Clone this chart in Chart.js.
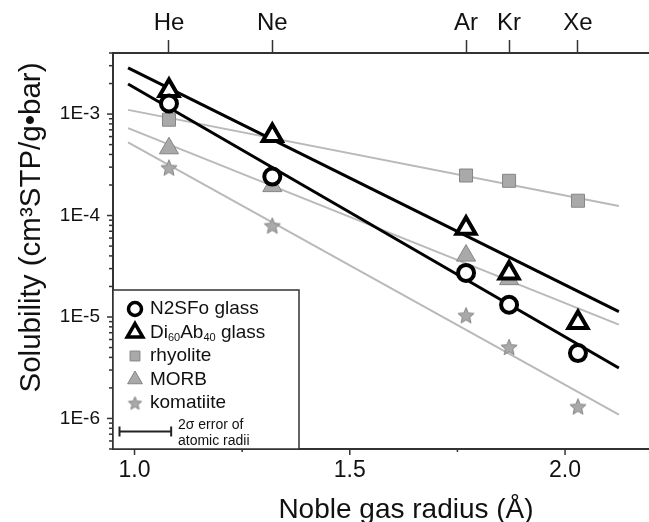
<!DOCTYPE html>
<html><head><meta charset="utf-8">
<script src="https://cdn.jsdelivr.net/npm/chart.js@4.4.1/dist/chart.umd.min.js"></script>
<style>html,body{margin:0;padding:0;background:#fff;}canvas{display:block;}</style>
</head><body>
<canvas id="c" width="649" height="522"></canvas>
<script>
// ---- data ----
const elements = ['He', 'Ne', 'Ar', 'Kr', 'Xe'];
const radii = [1.08, 1.32, 1.77, 1.87, 2.03];
const n2sfoGlass = [1.27e-3, 2.42e-4, 2.72e-5, 1.32e-5, 4.41e-6];
const di60ab40Glass = [1.71e-3, 6.14e-4, 7.48e-5, 2.71e-5, 8.85e-6];
const rhyolite = [8.8e-4, null, 2.48e-4, 2.2e-4, 1.40e-4];
const morb = [4.6e-4, 1.95e-4, 4.03e-5, 2.36e-5, null];
const komatiite = [2.97e-4, 7.96e-5, 1.04e-5, 5.06e-6, 1.31e-6];
const fitRadius = [0.985, 2.125];
const fitN2SFo = [1.98e-3, 3.14e-6];
const fitDi60Ab40 = [2.85e-3, 1.13e-5];
const fitRhyolite = [1.10e-3, 1.24e-4];
const fitMorb = [7.27e-4, 8.4e-6];
const fitKomatiite = [5.25e-4, 1.09e-6];
const xTicks = [1.0, 1.25, 1.5, 1.75, 2.0];
const xTickLabels = ['1.0', '', '1.5', '', '2.0'];
const yDecadeExps = [-7, -6, -5, -4, -3];
const radiusError2Sigma = 0.12;

const FONT = '"Liberation Sans", Arial, sans-serif';
const TXT = '#111';

function pts(vals) {
  const out = [];
  vals.forEach((v, i) => { if (v !== null) out.push({x: radii[i], y: v}); });
  return out;
}
function fitPts(vals) { return vals.map((v, i) => ({x: fitRadius[i], y: v})); }

function makeStar(R, fill, stroke) {
  const d = Math.ceil(R * 2 + 3);
  const c = document.createElement('canvas');
  c.width = d; c.height = d;
  const g = c.getContext('2d');
  const cx = d / 2, cy = d / 2 + R * 0.095, r = R * 0.45;
  g.beginPath();
  for (let i = 0; i < 10; i++) {
    const a = -Math.PI / 2 + i * Math.PI / 5;
    const rr = i % 2 ? r : R;
    g.lineTo(cx + rr * Math.cos(a), cy + rr * Math.sin(a));
  }
  g.closePath();
  g.fillStyle = fill; g.fill();
  g.lineWidth = 1; g.strokeStyle = stroke; g.stroke();
  return c;
}
const GRAY_FILL = '#a9a9a9', GRAY_EDGE = '#858585', GRAY_LINE = '#b9b9b9';
const starPlot = makeStar(8.5, GRAY_FILL, GRAY_EDGE);
const starLegend = makeStar(7, GRAY_FILL, GRAY_EDGE);

const yTickValues = [];
yDecadeExps.forEach(e => {
  for (let m = 1; m <= 9; m++) {
    const v = parseFloat((m * Math.pow(10, e)).toPrecision(3));
    if (v >= 5e-7 && v <= 4e-3) yTickValues.push(v);
  }
});

const axisTicks = {
  id: 'axisTicks',
  afterDraw(chart) {
    const ctx = chart.ctx, x = chart.scales.x, y = chart.scales.y;
    ctx.save();
    ctx.strokeStyle = '#333';
    ctx.lineWidth = 1.5;
    x.ticks.forEach((t, i) => {
      const px = x.getPixelForValue(t.value);
      const len = xTickLabels[i] ? 6 : 3;
      ctx.beginPath(); ctx.moveTo(px, x.top); ctx.lineTo(px, x.top + len); ctx.stroke();
    });
    y.ticks.forEach(t => {
      const py = y.getPixelForValue(t.value);
      const major = Math.abs(Math.log10(t.value) - Math.round(Math.log10(t.value))) < 1e-6;
      const len = major ? 6 : 4;
      ctx.beginPath(); ctx.moveTo(y.right - len, py); ctx.lineTo(y.right, py); ctx.stroke();
    });
    ctx.restore();
  }
};

const titles = {
  id: 'titles',
  afterDraw(chart) {
    const ctx = chart.ctx;
    ctx.save();
    ctx.fillStyle = TXT;
    ctx.font = '28px ' + FONT;
    ctx.textAlign = 'center';
    ctx.textBaseline = 'alphabetic';
    ctx.fillText('Noble gas radius (Å)', 406, 518);
    ctx.translate(32, 227.5);
    ctx.rotate(-Math.PI / 2);
    ctx.font = '29.5px ' + FONT;
    ctx.textBaseline = 'middle';
    ctx.fillText('Solubility (cm³STP/g•bar)', 0, 0);
    ctx.restore();
  }
};

const legendBox = {
  id: 'legendBox',
  afterDatasetsDraw(chart) {
    const ctx = chart.ctx, x = chart.scales.x;
    const L = {left: 113, top: 290, right: 299, bottom: 449};
    ctx.save();
    ctx.fillStyle = '#fff';
    ctx.fillRect(L.left, L.top, L.right - L.left, L.bottom - L.top);
    ctx.strokeStyle = '#333'; ctx.lineWidth = 1.5;
    ctx.strokeRect(L.left, L.top, L.right - L.left, L.bottom - L.top);
    const mx = 135, tx = 150;
    const rows = [
      {y: 309, style: 'circle', r: 6.5, bw: 3.5, fill: '#fff', edge: '#000'},
      {y: 332.5, style: 'triangle', r: 9, bw: 3.5, fill: '#fff', edge: '#000'},
      {y: 356, style: 'rect', r: 7, bw: 1, fill: GRAY_FILL, edge: GRAY_EDGE},
      {y: 379.5, style: 'triangle', r: 8.5, bw: 1, fill: GRAY_FILL, edge: GRAY_EDGE},
      {y: 403, style: starLegend, r: 7, bw: 0, fill: GRAY_FILL, edge: GRAY_EDGE}
    ];
    rows.forEach(rw => {
      ctx.fillStyle = rw.fill; ctx.strokeStyle = rw.edge; ctx.lineWidth = rw.bw;
      ctx.lineJoin = 'miter';
      Chart.helpers.drawPoint(ctx, {pointStyle: rw.style, radius: rw.r, borderWidth: rw.bw, rotation: 0}, mx, rw.y);
    });
    ctx.fillStyle = TXT;
    ctx.textAlign = 'left';
    ctx.textBaseline = 'middle';
    const big = '19px ' + FONT, small = '11px ' + FONT;
    ctx.font = big;
    ctx.fillText('N2SFo glass', tx, rows[0].y);
    // Di60Ab40 glass with subscripts
    let cx = tx;
    const parts = [['Di', big, 0], ['60', small, 5], ['Ab', big, 0], ['40', small, 5], [' glass', big, 0]];
    parts.forEach(p => {
      ctx.font = p[1];
      ctx.fillText(p[0], cx, rows[1].y + p[2]);
      cx += ctx.measureText(p[0]).width;
    });
    ctx.font = big;
    ctx.fillText('rhyolite', tx, rows[2].y);
    ctx.fillText('MORB', tx, rows[3].y);
    ctx.fillText('komatiite', tx, rows[4].y);
    // 2-sigma error bar of atomic radii, length from the x scale
    const ex0 = 119.5;
    const ex1 = ex0 + (x.getPixelForValue(1 + radiusError2Sigma) - x.getPixelForValue(1));
    const ey = 431.5;
    ctx.strokeStyle = '#222'; ctx.lineWidth = 2;
    ctx.beginPath();
    ctx.moveTo(ex0, ey); ctx.lineTo(ex1, ey);
    ctx.moveTo(ex0, ey - 5); ctx.lineTo(ex0, ey + 5);
    ctx.moveTo(ex1, ey - 5); ctx.lineTo(ex1, ey + 5);
    ctx.stroke();
    ctx.font = '14px ' + FONT;
    ctx.textBaseline = 'alphabetic';
    ctx.fillText('2σ error of', 178, 429);
    ctx.fillText('atomic radii', 178, 445);
    ctx.restore();
  }
};

function lineDs(label, vals, color, width) {
  return {label, data: fitPts(vals), showLine: true, borderColor: color, borderWidth: width,
          pointRadius: 0, fill: false, order: 10};
}
function noPadH(s, h) { s.height = h; s.paddingLeft = 0; s.paddingRight = 0; }

new Chart(document.getElementById('c'), {
  type: 'scatter',
  data: {
    datasets: [
      {label: 'N2SFo glass', data: pts(n2sfoGlass), pointStyle: 'circle', pointRadius: 8,
       pointBorderWidth: 4, pointBorderColor: '#000', pointBackgroundColor: '#fff', order: 1},
      {label: 'Di60Ab40 glass', data: pts(di60ab40Glass), pointStyle: 'triangle', pointRadius: 11,
       pointBorderWidth: 4, pointBorderColor: '#000', pointBackgroundColor: '#fff', order: 2},
      {label: 'rhyolite', data: pts(rhyolite), pointStyle: 'rect', pointRadius: 9.2,
       pointBorderWidth: 1, pointBorderColor: GRAY_EDGE, pointBackgroundColor: GRAY_FILL, order: 3},
      {label: 'MORB', data: pts(morb), pointStyle: 'triangle', pointRadius: 11,
       pointBorderWidth: 1, pointBorderColor: GRAY_EDGE, pointBackgroundColor: GRAY_FILL, order: 4},
      {label: 'komatiite', data: pts(komatiite), pointStyle: starPlot, pointRadius: 9,
       order: 5},
      lineDs('fit N2SFo', fitN2SFo, '#000', 3),
      lineDs('fit Di60Ab40', fitDi60Ab40, '#000', 3),
      lineDs('fit rhyolite', fitRhyolite, GRAY_LINE, 2),
      lineDs('fit MORB', fitMorb, GRAY_LINE, 2),
      lineDs('fit komatiite', fitKomatiite, GRAY_LINE, 2)
    ]
  },
  options: {
    responsive: false,
    animation: false,
    events: [],
    layout: {padding: 0, autoPadding: false},
    plugins: {legend: {display: false}, tooltip: {enabled: false}},
    scales: {
      x: {
        type: 'linear', position: 'bottom', min: 0.95, max: 2.195,
        afterBuildTicks: s => { s.ticks = xTicks.map(v => ({value: v})); },
        afterFit: s => noPadH(s, 73),
        ticks: {autoSkip: false, maxRotation: 0, padding: 8, color: TXT,
                font: {family: FONT, size: 23},
                callback: (v, i) => xTickLabels[i]},
        grid: {display: false, drawTicks: false},
        border: {display: true, color: '#333', width: 2}
      },
      x2: {
        type: 'linear', position: 'top', min: 0.95, max: 2.195,
        afterBuildTicks: s => { s.ticks = radii.map(v => ({value: v})); },
        afterFit: s => noPadH(s, 53),
        ticks: {autoSkip: false, maxRotation: 0, padding: 2, color: TXT,
                font: {family: FONT, size: 24},
                callback: (v, i) => elements[i]},
        grid: {display: true, drawOnChartArea: false, drawTicks: true, tickLength: 13,
               tickColor: '#333', tickWidth: 1.5},
        border: {display: true, color: '#333', width: 2}
      },
      y: {
        type: 'logarithmic', position: 'left', min: 5e-7, max: 4e-3,
        afterBuildTicks: s => { s.ticks = yTickValues.map(v => ({value: v})); },
        afterFit: s => { s.width = 113; s.paddingTop = 0; s.paddingBottom = 0; },
        ticks: {autoSkip: false, padding: 13, color: TXT,
                font: {family: FONT, size: 19},
                callback: v => {
                  const e = Math.log10(v);
                  return Math.abs(e - Math.round(e)) < 1e-6 ? '1E' + Math.round(e) : '';
                }},
        grid: {display: false, drawTicks: false},
        border: {display: true, color: '#333', width: 2}
      }
    }
  },
  plugins: [legendBox, axisTicks, titles]
});
</script>
</body></html>
